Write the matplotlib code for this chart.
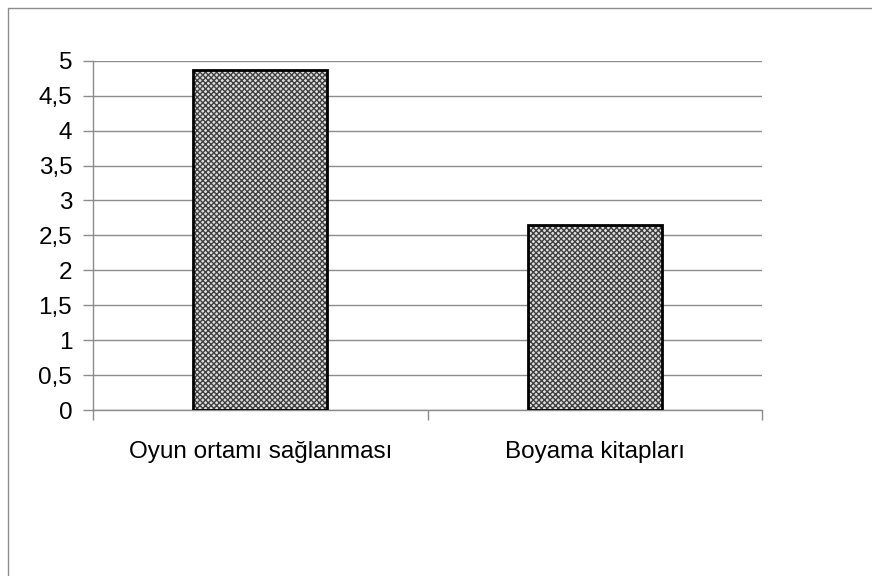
import numpy as np
import matplotlib.pyplot as plt
from matplotlib.lines import Line2D

kategoriler = ['Oyun ortamı sağlanması', 'Boyama kitapları']
degerler = [4.87, 2.65]
yticks = [0, 0.5, 1, 1.5, 2, 2.5, 3, 3.5, 4, 4.5, 5]
ytick_etiket = ['0', '0,5', '1', '1,5', '2', '2,5', '3', '3,5', '4', '4,5', '5']

plt.rcParams['font.family'] = ['Liberation Sans', 'DejaVu Sans']
plt.rcParams['hatch.linewidth'] = 1.0

fig = plt.figure(figsize=(8.72, 5.76), dpi=100)
ax = fig.add_axes([0.1067, 0.288, 0.7672, 0.6066])

x = np.arange(len(kategoriler))
# tarama deseni + siyah kenar ayrı çiziliyor
ax.bar(x, degerler, width=0.4, color='#e0e0e0', edgecolor='#404040', hatch='xxxxxx', linewidth=0, zorder=3)
ax.bar(x, degerler, width=0.4, fill=False, edgecolor='black', linewidth=2, zorder=4)

ax.set_xlim(-0.5, len(kategoriler) - 0.5)
ax.set_ylim(0, 5)
ax.set_yticks(yticks)
ax.set_yticklabels(ytick_etiket)
ax.set_xticks(x)
ax.set_xticklabels(kategoriler)
ax.set_xticks(np.arange(len(kategoriler) + 1) - 0.5, minor=True)

ax.grid(axis='y', color='#8c8c8c', linewidth=1, zorder=0)
for s in ['top', 'right']:
    ax.spines[s].set_visible(False)
for s in ['left', 'bottom']:
    ax.spines[s].set_color('#8c8c8c')
    ax.spines[s].set_linewidth(1)

ax.tick_params(axis='y', length=7, width=1, color='#8c8c8c', labelsize=17.5, pad=8)
ax.tick_params(axis='x', which='major', length=0, labelsize=17.5, pad=22)
ax.tick_params(axis='x', which='minor', length=7, width=1, color='#8c8c8c')

# dış çerçeve
fig.add_artist(Line2D([8/872, 8/872, 1.0], [0.0, 1 - 8/576, 1 - 8/576],
                      transform=fig.transFigure, color='#8c8c8c', linewidth=1))

fig.savefig('out.png', dpi=100)
